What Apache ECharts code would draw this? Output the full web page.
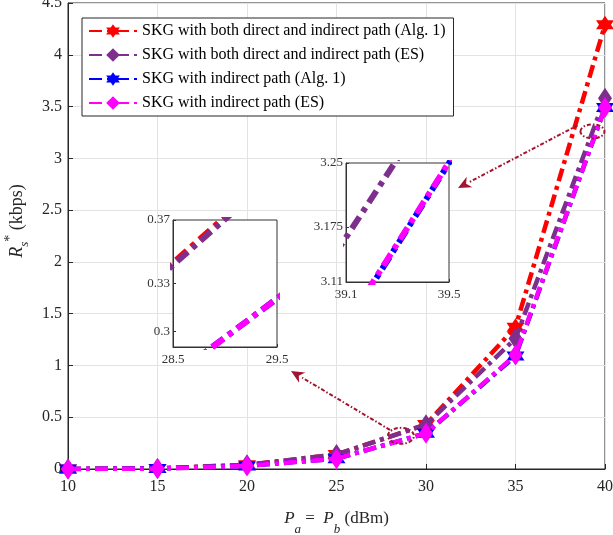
<!DOCTYPE html>
<html>
<head>
<meta charset="utf-8">
<script src="https://cdn.jsdelivr.net/npm/echarts@6/dist/echarts.min.js"></script>
<style>html,body{margin:0;padding:0;background:#fff}#c{width:613px;height:535px}</style>
</head>
<body>
<div id="c"></div>
<script>
var xValues = [10, 15, 20, 25, 30, 35, 40];
var bothAlg1 = [0, 0.006, 0.04, 0.14, 0.43, 1.37, 4.29];
var bothES = [0, 0.006, 0.04, 0.14, 0.428, 1.26, 3.58];
var indAlg1 = [0, 0.004, 0.03, 0.1, 0.345, 1.09, 3.49];
var indES = [0, 0.004, 0.03, 0.1, 0.345, 1.1, 3.49];
var seriesNames = [
  'SKG with both direct and indirect path (Alg. 1)',
  'SKG with both direct and indirect path (ES)',
  'SKG with indirect path (Alg. 1)',
  'SKG with indirect path (ES)'
];
var xTicks = [10, 15, 20, 25, 30, 35, 40];
var inset1XTicks = [28.5, 29.5];
var inset1YTicks = [0.3, 0.33, 0.37];
var inset2XTicks = [39.1, 39.5];
var inset2YTicks = [3.11, 3.175, 3.25];

var FONT = '"Liberation Serif", "Times New Roman", serif';
var colors = ['#ff0000', '#7e2f8e', '#0000ff', '#ff00ff'];
var hexagram = 'path://M0,-10 L2.887,-5 L8.66,-5 L5.774,0 L8.66,5 L2.887,5 L0,10 L-2.887,5 L-8.66,5 L-5.774,0 L-8.66,-5 L-2.887,-5 Z';
var symbols = [hexagram, 'diamond', hexagram, 'diamond'];
var symbolSizes = [18, [14, 21], 18, [14, 21]];
var allData = [bothAlg1, bothES, indAlg1, indES];

function pairs(arr) { return xValues.map(function (x, i) { return [x, arr[i]]; }); }

var series = [];
allData.forEach(function (d, k) {
  series.push({
    name: seriesNames[k], type: 'line', xAxisIndex: 0, yAxisIndex: 0,
    data: pairs(d), symbol: symbols[k], symbolSize: symbolSizes[k],
    itemStyle: { color: colors[k] },
    lineStyle: { color: colors[k], width: 4.5, type: [13, 5, 4, 5] },
    z: 2 + k * 0.1, animation: false
  });
});
[1, 2].forEach(function (g) {
  allData.forEach(function (d, k) {
    series.push({
      name: seriesNames[k], type: 'line', xAxisIndex: g, yAxisIndex: g,
      data: pairs(d), showSymbol: false, symbol: 'none', clip: true,
      lineStyle: { color: colors[k], width: 6, type: [14, 6, 5, 6] },
      z: 12, animation: false, silent: true
    });
  });
});

function insetAxisX(g, mn, mx, ticks) {
  return {
    type: 'value', gridIndex: g, min: mn, max: mx, z: 11,
    axisLine: { show: true, onZero: false, lineStyle: { color: '#333' } },
    axisTick: { show: true, inside: true, length: 3, customValues: ticks, lineStyle: { color: '#333' } },
    axisLabel: { customValues: ticks, color: '#333', fontFamily: FONT, fontSize: 13, margin: 6 },
    splitLine: { show: false }
  };
}
function insetAxisY(g, mn, mx, ticks) {
  return {
    type: 'value', gridIndex: g, min: mn, max: mx, z: 11,
    axisLine: { show: true, onZero: false, lineStyle: { color: '#333' } },
    axisTick: { show: true, inside: true, length: 3, customValues: ticks, lineStyle: { color: '#333' } },
    axisLabel: { customValues: ticks, color: '#333', fontFamily: FONT, fontSize: 13, margin: 3 },
    splitLine: { show: false }
  };
}

var option = {
  backgroundColor: '#fff',
  animation: false,
  grid: [
    { left: 68, right: 8, top: 3, bottom: 66, show: true, borderColor: '#262626', borderWidth: 1, outerBoundsMode: 'none', containLabel: false },
    { left: 173, top: 220, width: 104, height: 127, show: true, backgroundColor: '#fff', borderColor: '#333', borderWidth: 1, z: 10, outerBoundsMode: 'none', containLabel: false },
    { left: 346, top: 163, width: 103, height: 119, show: true, backgroundColor: '#fff', borderColor: '#333', borderWidth: 1, z: 10, outerBoundsMode: 'none', containLabel: false }
  ],
  legend: {
    data: seriesNames, orient: 'vertical', left: 82, top: 18,
    backgroundColor: '#fff', borderColor: '#262626', borderWidth: 1,
    padding: [5, 8, 5, 6], itemGap: 8, itemWidth: 48, itemHeight: 17,
    textStyle: { fontFamily: FONT, fontSize: 16, color: '#000' }, z: 20
  },
  xAxis: [
    {
      type: 'value', gridIndex: 0, min: 10, max: 40, interval: 5,
      name: '{i|P}{sub|a}{t| =  }{i|P}{sub|b}{t| (dBm)}', nameLocation: 'middle', nameGap: 41,
      nameTextStyle: {
        fontFamily: FONT, color: '#262626',
        rich: {
          i: { fontFamily: FONT, fontStyle: 'italic', fontSize: 17, color: '#262626', lineHeight: 26, verticalAlign: 'top' },
          t: { fontFamily: FONT, fontSize: 17, color: '#262626', lineHeight: 26, verticalAlign: 'top' },
          sub: { fontFamily: FONT, fontStyle: 'italic', fontSize: 13, color: '#262626', lineHeight: 26, verticalAlign: 'bottom' }
        }
      },
      axisLine: { show: true, onZero: false, lineStyle: { color: '#262626' } },
      axisTick: { show: true, inside: true, length: 5, lineStyle: { color: '#262626' } },
      axisLabel: { color: '#262626', fontFamily: FONT, fontSize: 16, margin: 10 },
      splitLine: { show: true, lineStyle: { color: '#e3e3e3', width: 1 } }
    },
    insetAxisX(1, 28.5, 29.5, inset1XTicks),
    insetAxisX(2, 39.1, 39.5, inset2XTicks)
  ],
  yAxis: [
    {
      type: 'value', gridIndex: 0, min: 0, max: 4.5, interval: 0.5,
      name: '{i|R}{sub|s}{sup|*}{t| (kbps)}', nameLocation: 'middle', nameGap: 31, nameRotate: 90,
      nameTextStyle: {
        fontFamily: FONT, color: '#262626', padding: [0, 0, 0, 30],
        rich: {
          i: { fontFamily: FONT, fontStyle: 'italic', fontSize: 18, color: '#262626', lineHeight: 28, verticalAlign: 'middle' },
          t: { fontFamily: FONT, fontSize: 18, color: '#262626', lineHeight: 28, verticalAlign: 'middle' },
          sub: { fontFamily: FONT, fontStyle: 'italic', fontSize: 13, color: '#262626', lineHeight: 28, verticalAlign: 'bottom' },
          sup: { fontFamily: FONT, fontSize: 14, color: '#262626', lineHeight: 28, verticalAlign: 'top' }
        }
      },
      axisLine: { show: true, onZero: false, lineStyle: { color: '#262626' } },
      axisTick: { show: true, inside: true, length: 5, lineStyle: { color: '#262626' } },
      axisLabel: { color: '#262626', fontFamily: FONT, fontSize: 16, margin: 6 },
      splitLine: { show: true, lineStyle: { color: '#e3e3e3', width: 1 } }
    },
    insetAxisY(1, 0.29, 0.37, inset1YTicks),
    insetAxisY(2, 3.11, 3.25, inset2YTicks)
  ],
  series: series
};

var chart = echarts.init(document.getElementById('c'), null, { renderer: 'canvas' });
chart.setOption(option);

// annotations: ellipses and arrows pointing to the insets
var red = '#a2142f';
function arrowGraphics(from, to) {
  var dx = to[0] - from[0], dy = to[1] - from[1];
  var len = Math.sqrt(dx * dx + dy * dy), ux = dx / len, uy = dy / len;
  var hl = 13, hw = 6;
  var bx = to[0] - ux * hl, by = to[1] - uy * hl;
  return [
    { type: 'line', shape: { x1: from[0], y1: from[1], x2: bx, y2: by }, style: { stroke: red, lineWidth: 2, lineDash: [4, 2, 1.5, 2] }, z: 30 },
    { type: 'polygon', shape: { points: [[to[0], to[1]], [bx - uy * hw, by + ux * hw], [to[0] - ux * hl * 0.7, to[1] - uy * hl * 0.7], [bx + uy * hw, by - ux * hw]] }, style: { fill: red }, z: 30 }
  ];
}
var e1 = chart.convertToPixel({ gridIndex: 0 }, [28.6, 0.32]);
var e2 = chart.convertToPixel({ gridIndex: 0 }, [39.3, 3.26]);
var g1 = chart.getModel().getComponent('grid', 1).coordinateSystem.getRect();
var g2 = chart.getModel().getComponent('grid', 2).coordinateSystem.getRect();
var graphics = [
  { type: 'ellipse', shape: { cx: e1[0], cy: e1[1], rx: 13, ry: 8 }, style: { fill: null, stroke: red, lineWidth: 2, lineDash: [4, 2, 1.5, 2] }, z: 30 },
  { type: 'ellipse', shape: { cx: e2[0], cy: e2[1], rx: 12, ry: 7 }, style: { fill: null, stroke: red, lineWidth: 2, lineDash: [4, 2, 1.5, 2] }, z: 30 }
];
graphics = graphics.concat(arrowGraphics([e1[0] - 11, e1[1] - 6], [g1.x + g1.width + 14, g1.y + g1.height + 24]));
graphics = graphics.concat(arrowGraphics([e2[0] - 15, e2[1] - 6], [g2.x + g2.width + 9, g2.y + 25]));
chart.setOption({ graphic: graphics });
</script>
</body>
</html>
